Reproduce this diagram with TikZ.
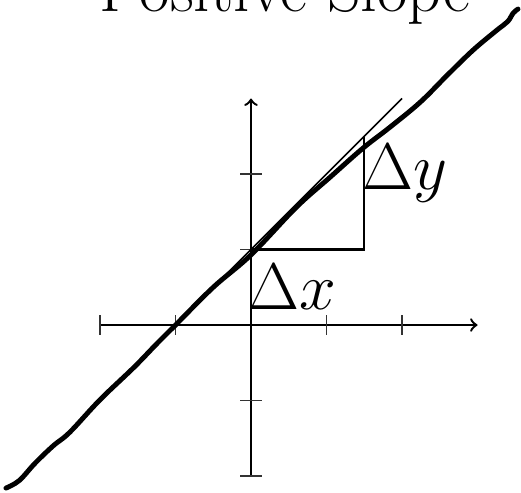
\documentclass[tikz,border=0pt]{standalone}
\begin{document}
\begin{tikzpicture}[x=1cm,y=1cm,
  axis/.style={line width=0.9pt,->},
  tickmark/.style={line width=0.45pt,black!80},
  slopeline/.style={line width=0.6pt},
  tri/.style={line width=0.85pt},
  freehand/.style={line width=1.85pt,line cap=round,line join=round},
  bigtext/.style={font=\Huge,inner sep=0pt}]
\useasboundingbox (-3.3245,-2.212) rectangle (3.576,4.305);
% title
\node[bigtext,anchor=base] (title) at (0.45,4.146) {Positive Slope};
% axes
\coordinate (xl) at (-2,0);
\coordinate (xr) at (3,0);
\coordinate (yb) at (0,-2);
\coordinate (yt) at (0,3);
\draw[axis] (xl) -- (xr);
\draw[axis] (yb) -- (yt);
\foreach \t in {-2,-1,1,2} {
  \draw[tickmark] (\t,-0.13) -- (\t,0.13);
  \draw[tickmark] (-0.14,\t) -- (0.14,\t);
}
% slope line
\coordinate (sa) at (-1.5,-0.5);
\coordinate (sb) at (2,3);
\draw[slopeline] (sa) -- (sb);
% triangle
\coordinate (p0) at (0,1);
\coordinate (p1) at (1.5,1);
\coordinate (p2) at (1.5,2.5);
\draw[tri] (p0) -- (p1) -- (p2);
\node[bigtext,anchor=base west] (dx) at (-0.04,0.2) {$\Delta x$};
\node[bigtext,anchor=base west] (dy) at (1.47,1.79) {$\Delta y$};
% freehand line
\draw[freehand] plot[smooth,tension=0.6] coordinates {
(-3.245,-2.159) (-3.07,-2.06) (-2.86,-1.83) (-2.62,-1.60) (-2.40,-1.42)
(-2.0,-0.99) (-1.55,-0.56) (-1.25,-0.25) (-1.0,0.0) (-0.5,0.5)
(0,0.93) (0.6,1.56) (1.05,1.96) (1.48,2.34) (1.84,2.62)
(2.24,2.95) (2.6,3.31) (2.94,3.64) (3.25,3.90) (3.40,4.02)
(3.47,4.13) (3.536,4.185)};
\end{tikzpicture}
\end{document}
